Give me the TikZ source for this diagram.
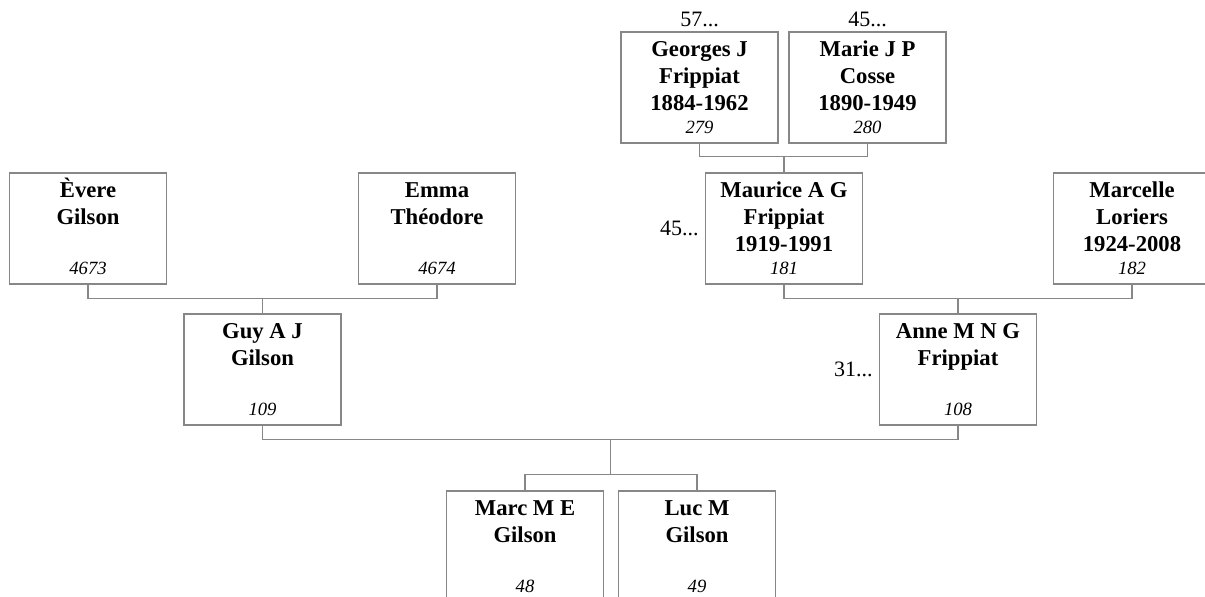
\documentclass[tikz,border=0pt]{standalone}
\usepackage{fontspec}
\setmainfont{Liberation Serif}
\usetikzlibrary{calc}
\definecolor{linegray}{RGB}{135,135,135}
\tikzset{
  pbox/.style={draw=linegray, line width=0.9pt, minimum width=117.75pt, minimum height=83.25pt, inner sep=0pt},
  pname/.style={inner sep=0pt, anchor=base, font=\bfseries\fontsize{17}{20.25}\selectfont},
  pnum/.style={inner sep=0pt, anchor=base, font=\itshape\fontsize{14}{16}\selectfont},
  more/.style={inner sep=0pt, font=\fontsize{16.5}{20}\selectfont},
  conn/.style={draw=linegray, line width=0.9pt}
}
\newcommand\person[5]{%
  \node[pbox] (#1) at (#2,#3) {};
  \node[pname] (#1n) at ([yshift=-18.75pt]#1.north) {\parbox[t]{115pt}{\centering #4}};
  \node[pnum] (#1k) at ([yshift=7.5pt]#1.south) {#5};
}
\begin{document}
\begin{tikzpicture}[x=0.75pt,y=-0.75pt]
\useasboundingbox (0,0) rectangle (1205,596);
\clip (0,0) rectangle (1205,596);
% generation 1
\person{geo}{699.5}{87.5}{Georges J\\Frippiat\\1884-1962}{279}
\person{mar}{867.5}{87.5}{Marie J P\\Cosse\\1890-1949}{280}
% generation 2
\person{eve}{88}{228.5}{Èvere\\Gilson}{4673}
\person{emm}{437}{228.5}{Emma\\Théodore}{4674}
\person{mau}{784}{228.5}{Maurice A G\\Frippiat\\1919-1991}{181}
\person{mcl}{1132}{228.5}{Marcelle\\Loriers\\1924-2008}{182}
% generation 3
\person{guy}{262.5}{369.5}{Guy A J\\Gilson}{109}
\person{ann}{958}{369.5}{Anne M N G\\Frippiat}{108}
% generation 4
\person{mrc}{525}{546.5}{Marc M E\\Gilson}{48}
\person{luc}{697}{546.5}{Luc M\\Gilson}{49}
% more-ancestor labels
\node[more, anchor=base] (geomore) at ([yshift=3.75pt]geo.north) {57...};
\node[more, anchor=base] (marmore) at ([yshift=3.75pt]mar.north) {45...};
\node[more, anchor=east] (maumore) at ([xshift=-4.5pt]mau.west) {45...};
\node[more, anchor=east] (annmore) at ([xshift=-4.5pt]ann.west) {31...};
% connectors
\draw[conn] (geo.south) -- ++(0,12.5) coordinate (gm1) -| (mar.south);
\draw[conn] (mau.north) -- (mau.north |- gm1);
\draw[conn] (eve.south) -- ++(0,14) coordinate (eg1) -| (emm.south);
\draw[conn] (guy.north) -- (guy.north |- eg1);
\draw[conn] (mau.south) -- ++(0,14) coordinate (mm1) -| (mcl.south);
\draw[conn] (ann.north) -- (ann.north |- mm1);
\draw[conn] (guy.south) -- ++(0,14) coordinate (ga1) -| (ann.south);
\coordinate (kidbar) at ($(mrc.north)!0.5!(luc.north)+(0,-16)$);
\draw[conn] (mrc.north) -- (mrc.north |- kidbar) -| (luc.north);
\coordinate (kidtop) at (610.25,0);
\draw[conn] (kidtop |- ga1) -- (kidtop |- kidbar);
\end{tikzpicture}
\end{document}
